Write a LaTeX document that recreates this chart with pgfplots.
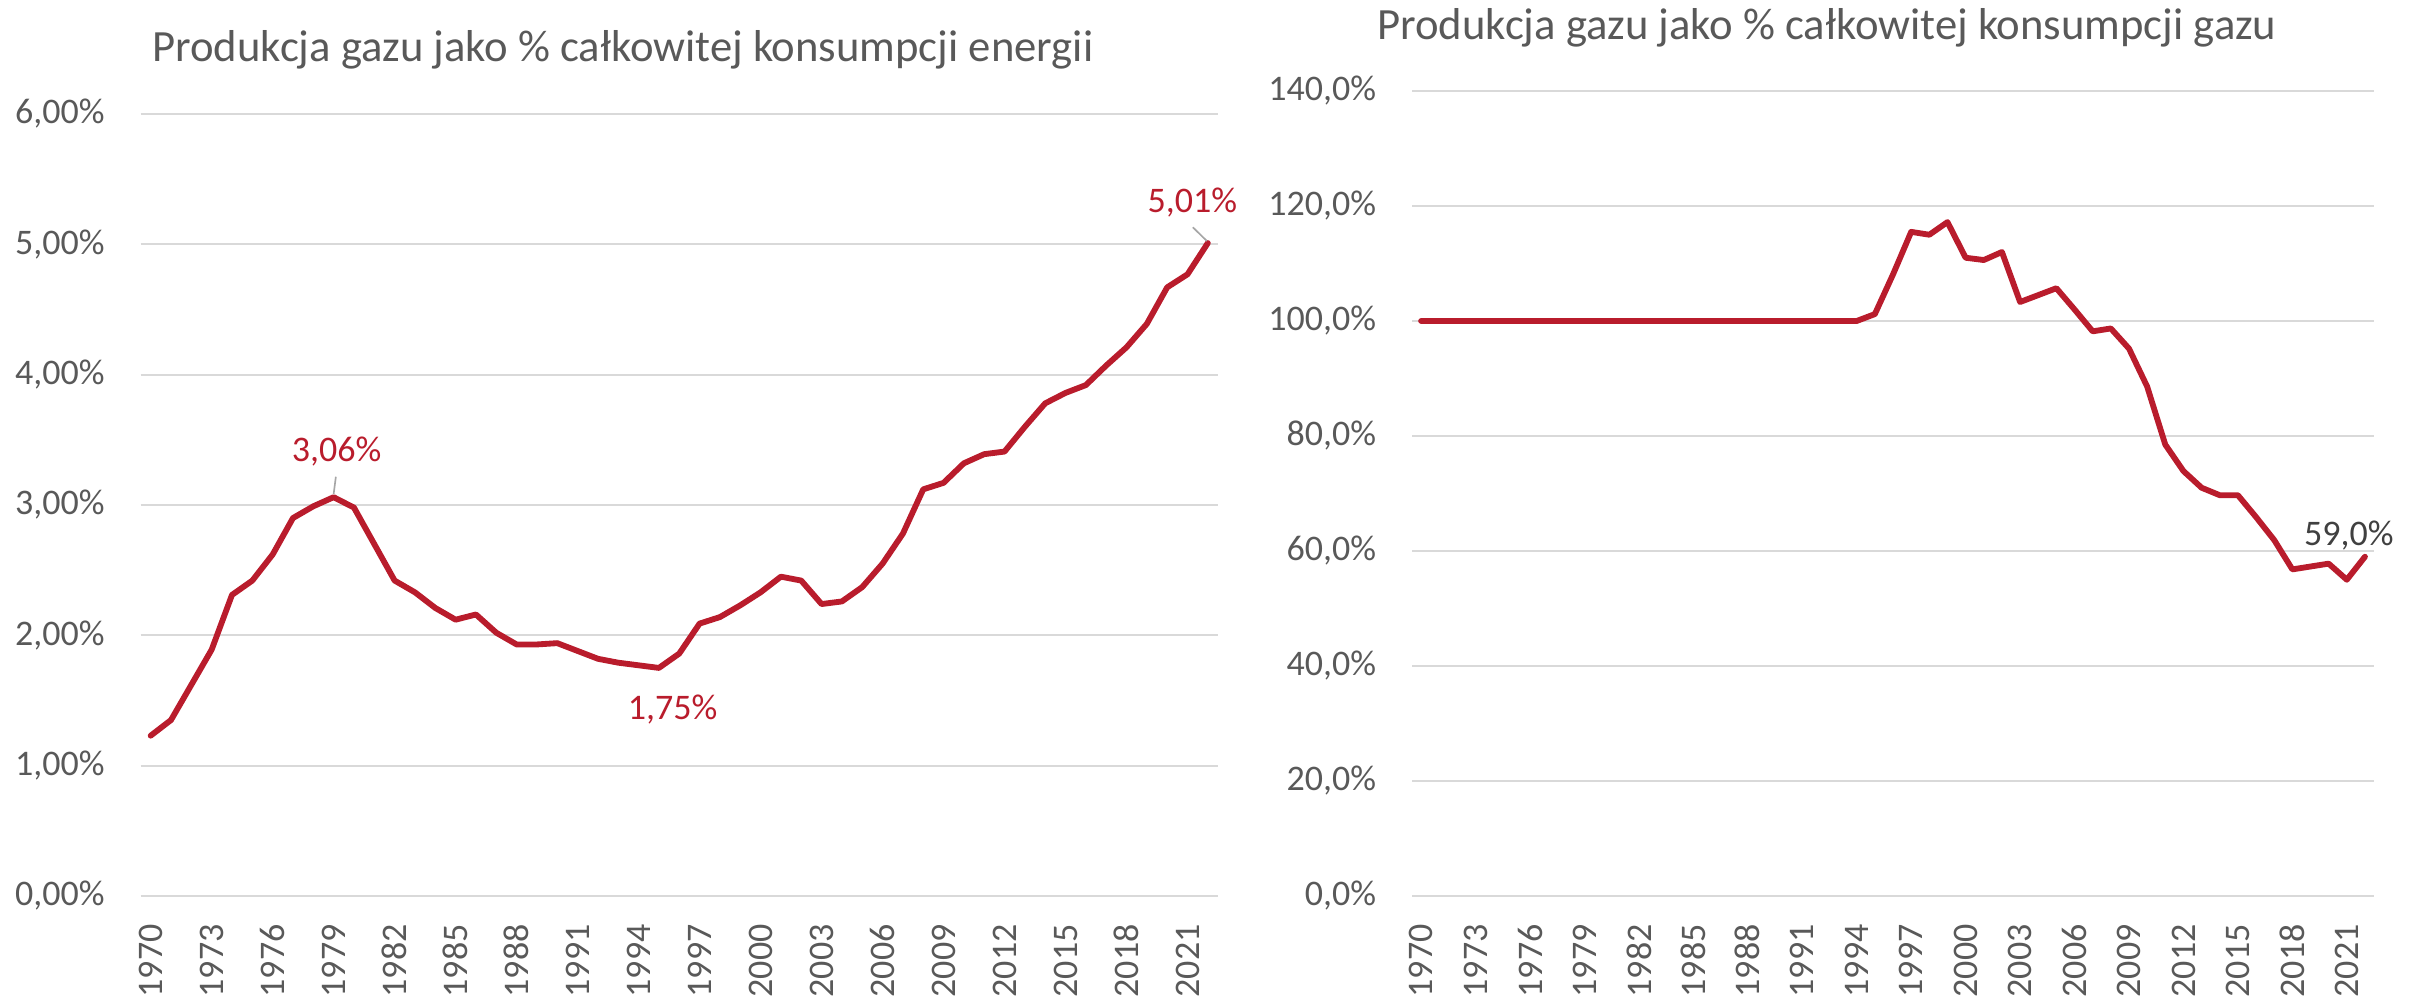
\documentclass[border=0pt]{standalone}
\usepackage{fontspec}
\setmainfont{Carlito}
\usepackage{pgfplots}
\pgfplotsset{compat=1.18}
\usepackage{pgfplotstable}
\definecolor{linered}{RGB}{185,28,44}
\definecolor{txtgray}{RGB}{89,89,89}
\definecolor{gridgray}{RGB}{217,217,217}
\definecolor{leadgray}{RGB}{166,166,166}
\definecolor{darkgray}{RGB}{64,64,64}

\pgfplotstableread{
year val
1970 1.23
1971 1.35
1972 1.62
1973 1.89
1974 2.31
1975 2.42
1976 2.62
1977 2.90
1978 2.99
1979 3.06
1980 2.98
1981 2.70
1982 2.42
1983 2.33
1984 2.21
1985 2.12
1986 2.16
1987 2.02
1988 1.93
1989 1.93
1990 1.94
1991 1.88
1992 1.82
1993 1.79
1994 1.77
1995 1.75
1996 1.86
1997 2.09
1998 2.14
1999 2.23
2000 2.33
2001 2.45
2002 2.42
2003 2.24
2004 2.26
2005 2.37
2006 2.55
2007 2.78
2008 3.12
2009 3.17
2010 3.32
2011 3.39
2012 3.41
2013 3.60
2014 3.78
2015 3.86
2016 3.92
2017 4.07
2018 4.21
2019 4.39
2020 4.67
2021 4.77
2022 5.01
}\energy

\pgfplotstableread{
year val
1970 100
1971 100
1972 100
1973 100
1974 100
1975 100
1976 100
1977 100
1978 100
1979 100
1980 100
1981 100
1982 100
1983 100
1984 100
1985 100
1986 100
1987 100
1988 100
1989 100
1990 100
1991 100
1992 100
1993 100
1994 100
1995 101.2
1996 108.1
1997 115.5
1998 115.0
1999 117.2
2000 111.0
2001 110.6
2002 112.0
2003 103.3
2004 104.5
2005 105.7
2006 102.0
2007 98.2
2008 98.7
2009 95.2
2010 88.6
2011 78.5
2012 73.9
2013 71.0
2014 69.7
2015 69.7
2016 65.9
2017 61.9
2018 56.8
2019 57.3
2020 57.8
2021 55.0
2022 59.0
}\gas

\pgfplotsset{
  excelstyle/.style={
    scale only axis,
    anchor=south west,
    xmin=1969.5, xmax=2022.5,
    axis line style={draw=none},
    major tick length=0pt,
    ymajorgrids=true,
    major grid style={draw=gridgray, line width=0.6pt},
    xtick={1970,1973,1976,1979,1982,1985,1988,1991,1994,1997,2000,2003,2006,2009,2012,2015,2018,2021},
    xticklabels={1970,1973,1976,1979,1982,1985,1988,1991,1994,1997,2000,2003,2006,2009,2012,2015,2018,2021},
    every tick label/.append style={font=\fontsize{10.8pt}{13pt}\selectfont, text=txtgray, inner sep=0pt},
    xticklabel style={rotate=90, anchor=east},
    xticklabel shift=8.3pt,
    yticklabel style={anchor=east},
    yticklabel shift=10.6pt,
    clip=false,
  },
}

\begin{document}
\begin{tikzpicture}
\path[use as bounding box] (0,0) rectangle (726.9pt,299.1pt);

\begin{axis}[excelstyle,
  at={(42.15pt,30.3pt)},
  width=323.25pt, height=234.6pt,
  ymin=0, ymax=6,
  ytick={0,1,2,3,4,5,6},
  yticklabels={{0,00\%},{1,00\%},{2,00\%},{3,00\%},{4,00\%},{5,00\%},{6,00\%}},
]
\addplot[linered, line width=1.75pt, line join=round, line cap=round] table[x=year,y=val] {\energy};
\draw[leadgray, line width=0.5pt] (axis cs:1979.11,3.217) -- (axis cs:1979.0,3.084);
\draw[leadgray, line width=0.5pt] (axis cs:2021.26,5.131) -- (axis cs:2021.95,5.026);
\node[anchor=base, text=linered, inner sep=0pt, font=\fontsize{10.8pt}{13pt}\selectfont] at (axis cs:1979.15,3.332) {3,06\%};
\node[anchor=base, text=linered, inner sep=0pt, font=\fontsize{10.8pt}{13pt}\selectfont] at (axis cs:1995.67,1.358) {1,75\%};
\node[anchor=base, text=linered, inner sep=0pt, font=\fontsize{10.8pt}{13pt}\selectfont] at (axis cs:2021.24,5.246) {5,01\%};
\end{axis}

\begin{axis}[excelstyle,
  at={(423.6pt,30.3pt)},
  width=288.6pt, height=241.5pt,
  ymin=0, ymax=140,
  ytick={0,20,40,60,80,100,120,140},
  yticklabels={{0,0\%},{20,0\%},{40,0\%},{60,0\%},{80,0\%},{100,0\%},{120,0\%},{140,0\%}},
]
\addplot[linered, line width=1.75pt, line join=round, line cap=round] table[x=year,y=val] {\gas};
\node[anchor=base, text=darkgray, inner sep=0pt, font=\fontsize{10.8pt}{13pt}\selectfont] at (axis cs:2021.11,60.87) {59,0\%};
\end{axis}

\node[anchor=base west, inner sep=0pt, text=txtgray, font=\fontsize{13.4pt}{16pt}\selectfont] at (45.5pt,280.6pt) {Produkcja gazu jako \% całkowitej konsumpcji energii};
\node[anchor=base west, inner sep=0pt, text=txtgray, font=\fontsize{13.4pt}{16pt}\selectfont] at (413pt,287.3pt) {Produkcja gazu jako \% całkowitej konsumpcji gazu};
\end{tikzpicture}
\end{document}
